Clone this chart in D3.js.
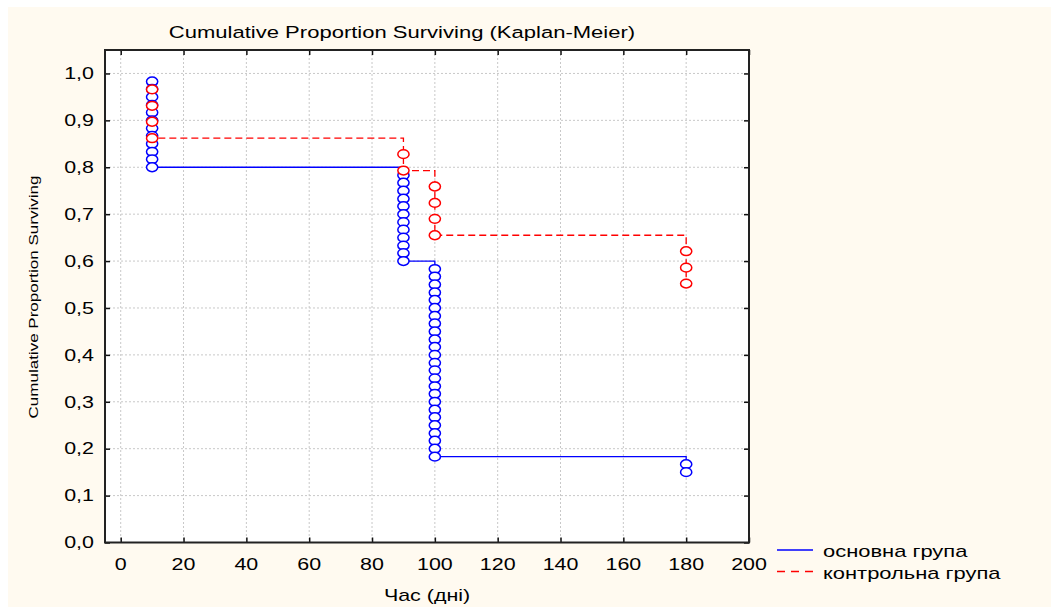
<!DOCTYPE html>
<html><head><meta charset="utf-8">
<script src="https://cdn.jsdelivr.net/npm/d3@7"></script>
<style>body{margin:0;background:#fff;} text{font-family:"Liberation Sans",Arial,sans-serif;fill:#000;}</style>
</head><body>
<svg id="c" width="1051" height="608"></svg>
<script>
// ---- data ----
const title = "Cumulative Proportion Surviving (Kaplan-Meier)";
const xLabel = "Час (дні)";
const yLabel = "Cumulative Proportion Surviving";
const seriesNames = ["основна група", "контрольна група"];
const xTicks = [0,20,40,60,80,100,120,140,160,180,200];
const yTicks = [0,0.1,0.2,0.3,0.4,0.5,0.6,0.7,0.8,0.9,1.0];
const yTickLabels = ["0,0","0,1","0,2","0,3","0,4","0,5","0,6","0,7","0,8","0,9","1,0"];
// основна група (blue)
const blueTime = [10,10,10,10,10,10,10,10,10,10,10,10,
  90,90,90,90,90,90,90,90,90,90,90,90,
  100,100,100,100,100,100,100,100,100,100,100,100,100,100,100,100,100,100,100,100,100,100,100,100,100,
  180,180];
const blueSurv = [0.983,0.967,0.950,0.933,0.917,0.900,0.883,0.867,0.850,0.833,0.817,0.800,
  0.783,0.767,0.750,0.733,0.717,0.700,0.683,0.667,0.650,0.633,0.617,0.600,
  0.583,0.567,0.550,0.533,0.517,0.500,0.483,0.467,0.450,0.433,0.417,0.400,0.383,0.367,0.350,0.333,0.317,0.300,0.283,0.267,0.250,0.233,0.217,0.200,0.183,
  0.167,0.150];
// контрольна група (red)
const redTime = [10,10,10,10,90,90,100,100,100,100,180,180,180];
const redSurv = [0.966,0.931,0.897,0.862,0.828,0.793,0.759,0.724,0.690,0.655,0.621,0.586,0.552];

// ---- layout ----
const svg = d3.select("#c");
const L = 105, R = 749, T = 50, B = 542.5;
const SX = 1.34;
const x = d3.scaleLinear().domain([-5, 200]).range([L, R]);
const y = d3.scaleLinear().domain([0, 1.05]).range([B, T]);

svg.append("rect").attr("x",8).attr("y",7).attr("width",1043).attr("height",600).attr("fill","#fffaf0");
svg.append("rect").attr("x",L).attr("y",T).attr("width",R-L).attr("height",B-T).attr("fill","#fff");

function stext(g, tx, ty, s, size, anchor, sx, rot){
  return g.append("text").attr("transform",`translate(${tx},${ty})${rot?` rotate(${rot})`:""} scale(${sx},1)`)
    .attr("text-anchor",anchor).style("font-size",size+"px").text(s);
}

// grid
const grid = svg.append("g").attr("stroke","#c8c8c8").attr("stroke-width",1).attr("stroke-dasharray","2,2");
grid.selectAll("line.v").data(xTicks).join("line").attr("x1",d=>x(d)).attr("x2",d=>x(d)).attr("y1",T).attr("y2",B);
grid.selectAll("line.h").data(yTicks.filter(d=>d>0)).join("line").attr("x1",L).attr("x2",R).attr("y1",d=>y(d)).attr("y2",d=>y(d));

// axes (ticks inside)
const tl = 5;
svg.append("g").attr("transform",`translate(0,${B})`).call(d3.axisTop(x).tickValues(xTicks).tickSize(tl).tickFormat(""));
svg.append("g").attr("transform",`translate(0,${T})`).call(d3.axisBottom(x).tickValues(xTicks).tickSize(tl).tickFormat(""));
svg.append("g").attr("transform",`translate(${L},0)`).call(d3.axisRight(y).tickValues(yTicks).tickSize(tl).tickFormat(""));
svg.append("g").attr("transform",`translate(${R},0)`).call(d3.axisLeft(y).tickValues(yTicks).tickSize(tl).tickFormat(""));
svg.selectAll(".domain").remove();
svg.selectAll(".tick line").attr("stroke","#111").attr("stroke-width",1.5);
svg.append("rect").attr("x",L).attr("y",T).attr("width",R-L).attr("height",B-T)
  .attr("fill","none").attr("stroke","#222").attr("stroke-width",2);

// tick labels
const lab = svg.append("g");
xTicks.forEach(d=>stext(lab, x(d), 569.5, String(d), 16, "middle", SX));
yTicks.forEach((d,i)=>stext(lab, 94, y(d)+5.8, yTickLabels[i], 16, "end", SX));

// titles
stext(svg, 402, 38, title, 16.5, "middle", 1.335);
stext(svg, 427, 600.5, xLabel, 16, "middle", SX);
stext(svg, 38, 297, yLabel, 13, "middle", 1.31, -90);

// series
const line = d3.line().x(d=>x(d[0])).y(d=>y(d[1])).curve(d3.curveStepAfter);
const blueData = blueTime.map((t,i)=>[t, blueSurv[i]]);
const redData = redTime.map((t,i)=>[t, redSurv[i]]);
svg.append("path").datum(blueData).attr("d",line).attr("fill","none").attr("stroke","#0000ff").attr("stroke-width",1.3);
svg.append("path").datum(redData).attr("d",line).attr("fill","none").attr("stroke","#ff0000").attr("stroke-width",1.3).attr("stroke-dasharray","7,4");

function marks(data, color){
  svg.append("g").selectAll("ellipse").data(data).join("ellipse")
    .attr("cx",d=>x(d[0])).attr("cy",d=>y(d[1])).attr("rx",5.6).attr("ry",4.4)
    .attr("fill","#fff").attr("stroke",color).attr("stroke-width",1.5);
}
marks(blueData, "#0000ff");
marks(redData, "#ff0000");

// legend
const lg = svg.append("g");
lg.append("line").attr("x1",777).attr("x2",813).attr("y1",550).attr("y2",550).attr("stroke","#0000ff").attr("stroke-width",1.3);
lg.append("line").attr("x1",777).attr("x2",813).attr("y1",571.5).attr("y2",571.5).attr("stroke","#ff0000").attr("stroke-width",1.3).attr("stroke-dasharray","8,6");
stext(lg, 823, 556.5, seriesNames[0], 16, "start", 1.37);
stext(lg, 823, 578.5, seriesNames[1], 16, "start", 1.37);
</script>
</body></html>
